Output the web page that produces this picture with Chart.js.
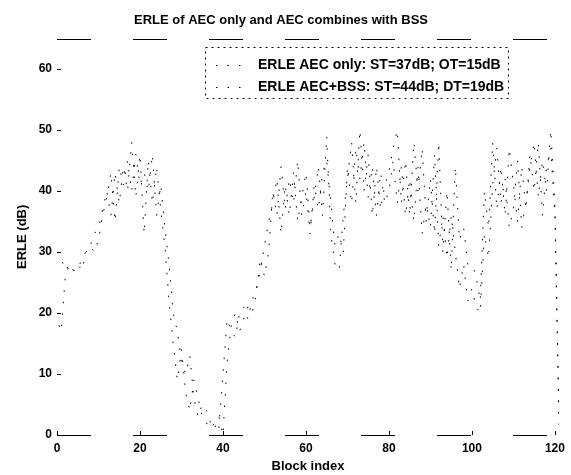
<!DOCTYPE html>
<html>
<head>
<meta charset="utf-8">
<script src="https://cdn.jsdelivr.net/npm/chart.js@4.4.1/dist/chart.umd.min.js"></script>
<style>
  html, body { margin: 0; padding: 0; background: #fff; }
</style>
</head>
<body>
<canvas id="erleChart" width="571" height="475"></canvas>
<script>
// ERLE per block
var chartTitle = 'ERLE of AEC only and AEC combines with BSS';
var seriesNames = ['ERLE AEC only: ST=37dB; OT=15dB', 'ERLE AEC+BSS: ST=44dB; DT=19dB'];
var xTitle = 'Block index';
var yTitle = 'ERLE (dB)';
var xTicks = [0, 20, 40, 60, 80, 100, 120];
var yTicks = [0, 10, 20, 30, 40, 50, 60];

var erleAec = [30, 29, 27, 28, 27, 27, 29, 30, 31, 33,
               34, 37, 40, 36, 43, 38, 44, 40, 48, 39,
               46, 33, 45, 38, 44, 37, 31, 22, 15, 9,
               14, 7, 4, 9, 6, 3, 2, 1, 2, 1,
               10, 19, 17, 16, 20, 21, 19, 22, 24, 27,
               31, 35, 38, 42, 33, 41, 36, 43, 35, 39,
               43, 34, 39, 44, 36, 49, 33, 28, 27, 36,
               42, 48, 38, 50, 40, 46, 36, 44, 37, 41,
               43, 47, 50, 38, 45, 36, 48, 40, 47, 35,
               42, 33, 48, 30, 40, 27, 44, 32, 34, 28,
               28, 26, 22, 40, 34, 48, 37, 44, 36, 47,
               41, 35, 44, 37, 46, 40, 48, 36, 44, 47,
               36, 2];

var erleBss = [19, 17, 26, 28, 27, 28, 27, 30, 31, 30,
               32, 36, 39, 43, 35, 44, 41, 45, 40, 46,
               41, 43, 40, 46, 36, 41, 34, 28, 20, 17,
               12, 10, 13, 6, 3, 5, 4, 2, 1, 3,
               0, 12, 18, 20, 17, 19, 21, 20, 23, 29,
               26, 30, 40, 36, 44, 37, 42, 38, 45, 36,
               40, 33, 41, 37, 43, 45, 38, 31, 33, 30,
               44, 38, 47, 42, 48, 39, 44, 36, 43, 38,
               40, 45, 38, 44, 36, 42, 35, 44, 33, 38,
               34, 46, 31, 36, 29, 36, 30, 24, 28, 22,
               24, 21, 20, 33, 29, 41, 47, 38, 42, 34,
               37, 45, 34, 38, 44, 48, 39, 45, 40, 50,
               38, 1];

var fontFam = '"Liberation Sans", Arial, Helvetica, sans-serif';

function toPoints(vals) {
    var pts = [];
    for (var i = 0; i < vals.length; i++) {
        pts.push({ x: i, y: vals[i] });   // block index = position in the list
    }
    return pts;
}

// broken top/bottom frame lines + small inside tick marks (matlab style)
var axisFrame = {
    id: 'axisFrame',
    afterDatasetsDraw: function (chart) {
        var ctx = chart.ctx;
        var a = chart.chartArea;
        var xs = chart.scales.x, ys = chart.scales.y;
        var top = Math.round(a.top) + 0.5, bot = Math.round(a.bottom) + 0.5;
        ctx.save();
        ctx.strokeStyle = '#000';
        ctx.lineWidth = 1;
        ctx.setLineDash([34, 42]);
        ctx.beginPath();
        ctx.moveTo(a.left, top);
        ctx.lineTo(a.right, top);
        ctx.moveTo(a.left, bot);
        ctx.lineTo(a.right, bot);
        ctx.stroke();
        ctx.setLineDash([]);
        ctx.beginPath();
        xTicks.forEach(function (v) {
            var px = Math.round(xs.getPixelForValue(v)) + 0.5;
            ctx.moveTo(px, a.bottom);
            ctx.lineTo(px, a.bottom - 4);
        });
        yTicks.forEach(function (v) {
            var py = Math.round(ys.getPixelForValue(v)) + 0.5;
            ctx.moveTo(a.left, py);
            ctx.lineTo(a.left + 4, py);
        });
        ctx.stroke();
        ctx.restore();
    }
};

// legend box inside the axes, upper right
var boxLegend = {
    id: 'boxLegend',
    afterDraw: function (chart) {
        var ctx = chart.ctx;
        var x0 = 205, y0 = 47, x1 = 508, y1 = 98;
        ctx.save();
        ctx.fillStyle = '#fff';
        ctx.fillRect(x0, y0, x1 - x0, y1 - y0);
        ctx.strokeStyle = '#000';
        ctx.lineWidth = 1;
        ctx.setLineDash([2, 4]);
        ctx.strokeRect(x0 + 0.5, y0 + 0.5, x1 - x0, y1 - y0);
        ctx.font = 'bold 14px ' + fontFam;
        ctx.textBaseline = 'middle';
        chart.data.datasets.forEach(function (ds, i) {
            var cy = 65 + i * 22;
            ctx.setLineDash(ds.borderDash);
            ctx.strokeStyle = ds.borderColor;
            ctx.beginPath();
            ctx.moveTo(216, cy + 0.5);
            ctx.lineTo(246, cy + 0.5);
            ctx.stroke();
            ctx.setLineDash([]);
            ctx.fillStyle = '#000';
            ctx.fillText(ds.label, 258, cy);
        });
        ctx.restore();
    }
};

var chartdata = {
    datasets: [
        {
            label: seriesNames[0],
            data: toPoints(erleAec),
            borderColor: '#000',
            borderWidth: 1,
            borderDash: [1.5, 10],
            pointRadius: 0,
            fill: false
        },
        {
            label: seriesNames[1],
            data: toPoints(erleBss),
            borderColor: '#000',
            borderWidth: 1,
            borderDash: [1.5, 10],
            borderDashOffset: 5,
            pointRadius: 0,
            fill: false
        }
    ]
};

var erleChart = new Chart(document.getElementById('erleChart'), {
    type: 'line',
    data: chartdata,
    plugins: [axisFrame, boxLegend],
    options: {
        responsive: false,
        animation: false,
        devicePixelRatio: 1,
        layout: { padding: { left: 0, right: 9, top: 0, bottom: 0 } },
        plugins: {
            legend: { display: false },
            tooltip: { enabled: false },
            title: {
                display: true,
                text: chartTitle,
                color: '#000',
                font: { family: fontFam, size: 13, weight: 'bold' },
                padding: { top: 13, bottom: 10 }
            }
        },
        scales: {
            x: {
                type: 'linear',
                min: 0,
                max: 121,
                grid: { display: false, drawTicks: false },
                border: { display: false },
                afterBuildTicks: function (scale) {
                    scale.ticks = xTicks.map(function (v) { return { value: v }; });
                },
                afterFit: function (scale) { scale.height = 40; },
                ticks: {
                    color: '#000',
                    padding: 6,
                    maxRotation: 0,
                    font: { family: fontFam, size: 12, weight: 'bold' }
                },
                title: {
                    display: true,
                    text: xTitle,
                    color: '#000',
                    padding: 1,
                    font: { family: fontFam, size: 13, weight: 'bold' }
                }
            },
            y: {
                min: 0,
                max: 65,
                grid: { display: false, drawTicks: false },
                border: { display: false },
                afterBuildTicks: function (scale) {
                    scale.ticks = yTicks.map(function (v) { return { value: v }; });
                },
                afterFit: function (scale) { scale.width = 57; },
                ticks: {
                    color: '#000',
                    padding: 5,
                    font: { family: fontFam, size: 12, weight: 'bold' }
                },
                title: {
                    display: true,
                    text: yTitle,
                    color: '#000',
                    padding: 15,
                    font: { family: fontFam, size: 13, weight: 'bold' }
                }
            }
        }
    }
});
</script>
</body>
</html>
